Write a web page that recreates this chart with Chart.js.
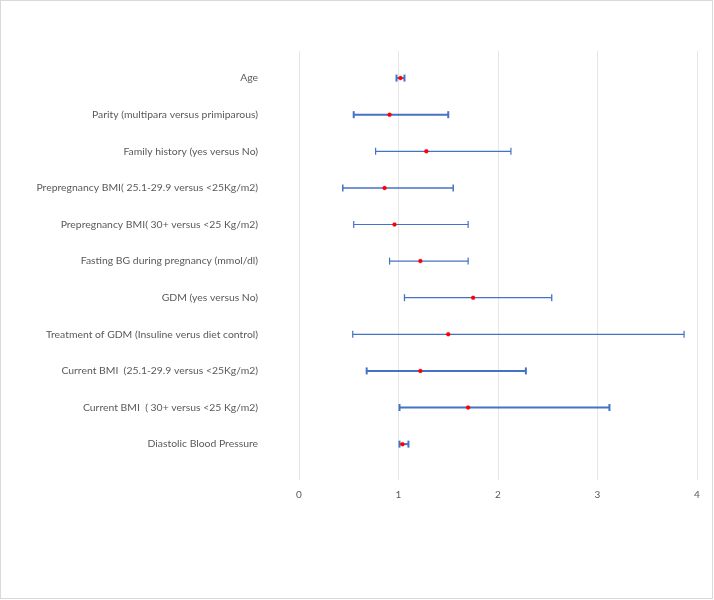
<!DOCTYPE html>
<html>
<head>
<meta charset="utf-8">
<script src="https://cdn.jsdelivr.net/npm/chart.js@4/dist/chart.umd.min.js"></script>
<style>
  html, body { margin: 0; padding: 0; background: #fff; }
  canvas { display: block; }
</style>
</head>
<body>
<canvas id="c" width="714" height="600"></canvas>
<script>
const categories = [
  "Age",
  "Parity (multipara versus primiparous)",
  "Family history (yes versus No)",
  "Prepregnancy BMI( 25.1-29.9 versus <25Kg/m2)",
  "Prepregnancy BMI( 30+ versus <25 Kg/m2)",
  "Fasting BG during pregnancy (mmol/dl)",
  "GDM (yes versus No)",
  "Treatment of GDM (Insuline verus diet control)",
  "Current BMI  (25.1-29.9 versus <25Kg/m2)",
  "Current BMI  ( 30+ versus <25 Kg/m2)",
  "Diastolic Blood Pressure"
];
const oddsRatio = [1.02, 0.91, 1.28, 0.86, 0.96, 1.22, 1.75, 1.50, 1.22, 1.70, 1.04];
const ciLower   = [0.98, 0.55, 0.77, 0.44, 0.55, 0.91, 1.06, 0.54, 0.68, 1.01, 1.01];
const ciUpper   = [1.06, 1.50, 2.13, 1.55, 1.70, 1.70, 2.54, 3.87, 2.28, 3.12, 1.10];
const xTicks    = [0, 1, 2, 3, 4];

// style only: line weight of each confidence interval
const ciWeight  = [2, 2, 1.2, 1.5, 1.2, 1.2, 1.3, 1.2, 2, 2, 2];

const ciData = [];
categories.forEach((c, i) => {
  ciData.push({x: ciLower[i], y: i});
  ciData.push({x: ciUpper[i], y: i});
  ciData.push({x: null, y: null});
});
const orData = categories.map((c, i) => ({x: oddsRatio[i], y: i}));

const frame = {
  id: 'frame',
  beforeDraw(chart) {
    const ctx = chart.ctx;
    ctx.save();
    ctx.fillStyle = '#fff';
    ctx.fillRect(0, 0, chart.width, chart.height);
    ctx.restore();
  },
  afterDraw(chart) {
    const ctx = chart.ctx;
    ctx.save();
    ctx.strokeStyle = '#d9d9d9';
    ctx.lineWidth = 1;
    ctx.strokeRect(0.5, 0.5, chart.width - 2, chart.height - 2);
    ctx.restore();
  }
};

new Chart(document.getElementById('c'), {
  type: 'scatter',
  data: {
    datasets: [
      {
        data: ciData,
        showLine: true,
        spanGaps: false,
        borderColor: '#4472C4',
        borderWidth: 1.5,
        segment: {
          borderWidth: ctx => ciWeight[Math.floor(ctx.p0DataIndex / 3)]
        },
        pointStyle: 'line',
        rotation: 90,
        pointRadius: 3.5,
        pointHoverRadius: 3.5,
        pointBorderColor: '#4472C4',
        pointBorderWidth: ctx => ciWeight[Math.floor(ctx.dataIndex / 3)] || 1.5,
        order: 2
      },
      {
        data: orData,
        pointStyle: 'circle',
        pointRadius: 2,
        pointBackgroundColor: '#FF0000',
        pointBorderColor: '#FF0000',
        pointBorderWidth: 0.3,
        order: 1
      }
    ]
  },
  options: {
    responsive: false,
    animation: false,
    events: [],
    layout: { padding: { top: 51, right: 17, left: 0, bottom: 0 } },
    plugins: { legend: { display: false }, tooltip: { enabled: false }, title: { display: false } },
    scales: {
      x: {
        type: 'linear',
        min: 0, max: 4,
        afterBuildTicks: axis => { axis.ticks = xTicks.map(v => ({value: v})); },
        afterFit: axis => { axis.height = 120; },
        grid: { color: '#e6e6e6', lineWidth: 1, drawTicks: false },
        border: { display: false },
        ticks: { padding: 9, color: '#595959', font: { family: 'Lato', size: 10 } }
      },
      y: {
        type: 'linear',
        reverse: true,
        min: -0.74, max: 10.98,
        afterBuildTicks: axis => { axis.ticks = categories.map((c, i) => ({value: i})); },
        afterFit: axis => { axis.width = 299; },
        grid: { display: false, drawTicks: false },
        border: { display: false },
        ticks: {
          padding: 41,
          color: '#595959',
          font: { family: 'Lato', size: 10.4 },
          callback: v => categories[v]
        }
      }
    }
  },
  plugins: [frame]
});
</script>
</body>
</html>
